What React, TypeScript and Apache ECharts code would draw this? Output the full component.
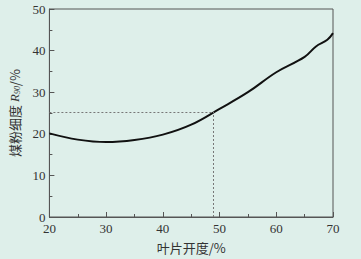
import React, { useEffect, useRef } from "react";
import * as echarts from "echarts";

const xValues = [20, 25, 30, 35, 40, 45, 50, 55, 60, 65, 67, 69, 70];
const yValues = [20.1, 18.6, 18.0, 18.5, 19.8, 22.2, 26.0, 30.0, 34.8, 38.5, 41.0, 42.6, 44.2];
const refPoint = [48.8, 25.3];
const xName = "叶片开度/%";

export default function App() {
  const ref = useRef<HTMLDivElement>(null);
  useEffect(() => {
    if (!ref.current) return;
    const chart = echarts.init(ref.current, undefined, { renderer: "svg" });
    const axisColor = "#555";
    const labelColor = "#333";
    const font = "'Liberation Serif', 'DejaVu Serif', serif";
    chart.setOption({
      animation: false,
      backgroundColor: "#deefea",
      grid: {
        left: 47,
        right: 28,
        top: 9,
        bottom: 39,
        show: true,
        borderColor: axisColor,
        borderWidth: 1,
        backgroundColor: "transparent",
      },
      xAxis: {
        type: "value",
        min: 20,
        max: 70,
        interval: 10,
        name: xName,
        nameLocation: "middle",
        nameGap: 24,
        nameTextStyle: { color: labelColor, fontSize: 13, fontFamily: "'Noto Sans CJK SC', serif" },
        axisLine: { show: true, lineStyle: { color: axisColor } },
        axisTick: { show: true, inside: true, length: 5, lineStyle: { color: axisColor } },
        minorTick: { show: true, splitNumber: 2, length: 3, lineStyle: { color: axisColor } },
        splitLine: { show: false },
        axisLabel: { color: labelColor, fontSize: 13, fontFamily: font, margin: 5 },
      },
      yAxis: {
        type: "value",
        min: 0,
        max: 50,
        interval: 10,
        name: "{a|煤粉细度 }{i|R}{s|90}{a|/%}",
        nameLocation: "middle",
        nameGap: 25,
        nameTextStyle: {
          color: labelColor,
          rich: {
            a: { fontSize: 13, color: labelColor, fontFamily: "'Noto Sans CJK SC', serif" },
            i: { fontSize: 13, color: labelColor, fontStyle: "italic", fontFamily: font },
            s: { fontSize: 8, color: labelColor, fontStyle: "italic", fontFamily: font, verticalAlign: "bottom", padding: [6, 0, 0, 0] },
          },
        },
        axisLine: { show: true, lineStyle: { color: axisColor } },
        axisTick: { show: true, inside: true, length: 5, lineStyle: { color: axisColor } },
        minorTick: { show: true, splitNumber: 2, length: 3, lineStyle: { color: axisColor } },
        splitLine: { show: false },
        axisLabel: { color: labelColor, fontSize: 13, fontFamily: font, margin: 4 },
      },
      series: [
        {
          type: "line",
          data: xValues.map((x, i) => [x, yValues[i]]),
          smooth: 0.4,
          showSymbol: false,
          lineStyle: { color: "#111", width: 2 },
          markLine: {
            silent: true,
            symbol: "none",
            label: { show: false },
            lineStyle: { type: [2, 2], color: "#777", width: 1 },
            data: [
              [{ coord: [20, refPoint[1]] }, { coord: [refPoint[0], refPoint[1]] }],
              [{ coord: [refPoint[0], 0] }, { coord: [refPoint[0], refPoint[1]] }],
            ],
          },
        },
      ],
    });
    return () => chart.dispose();
  }, []);
  return <div ref={ref} style={{ width: 361, height: 259, position: "absolute", left: 0, top: 0 }} />;
}
